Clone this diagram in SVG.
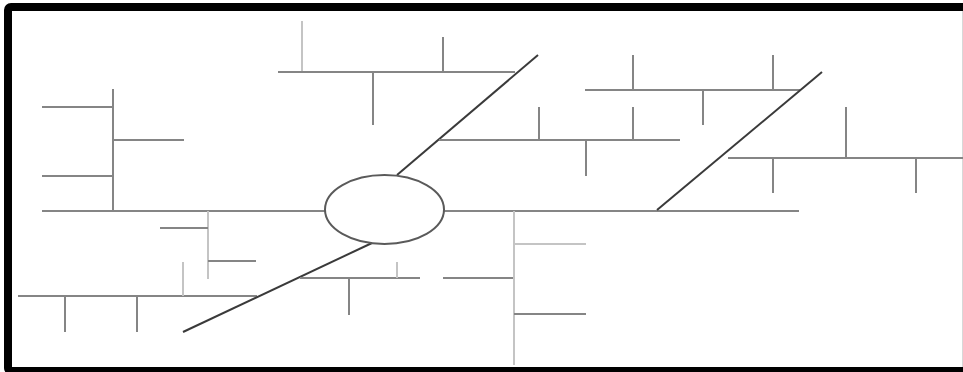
<svg xmlns="http://www.w3.org/2000/svg" width="963" height="372" viewBox="0 0 963 372">
<style>
.l{stroke:#858585;stroke-width:2;fill:none}
.lt{stroke:#c4c4c4;stroke-width:2;fill:none}
.d{stroke:#3a3a3a;stroke-width:2;fill:none}
</style>
<rect x="0" y="0" width="963" height="372" fill="#fff"/>
<rect x="8" y="7" width="960" height="364" rx="3" fill="none" stroke="#000" stroke-width="8"/>
<line x1="962.5" y1="11" x2="962.5" y2="367" stroke="#d8d8d8" stroke-width="1"/>
<g id="connectors">
<!-- main spine -->
<line class="l" x1="42" y1="211" x2="325" y2="211"/>
<line class="l" x1="444" y1="211" x2="799" y2="211"/>
<!-- upper-left comb -->
<line class="l" x1="113" y1="89" x2="113" y2="211"/>
<line class="l" x1="42" y1="107" x2="113" y2="107"/>
<line class="l" x1="113" y1="140" x2="184" y2="140"/>
<line class="l" x1="42" y1="176" x2="113" y2="176"/>
<!-- lower-left -->
<line class="lt" x1="208" y1="211" x2="208" y2="279"/>
<line class="l" x1="160" y1="228" x2="208" y2="228"/>
<line class="l" x1="208" y1="261" x2="256" y2="261"/>
<line class="l" x1="18" y1="296" x2="257" y2="296"/>
<line class="lt" x1="183" y1="262" x2="183" y2="296"/>
<line class="l" x1="65" y1="296" x2="65" y2="332"/>
<line class="l" x1="137" y1="296" x2="137" y2="332"/>
<line class="d" x1="183" y1="332" x2="372" y2="243"/>
<line class="l" x1="300" y1="278" x2="420" y2="278"/>
<line class="l" x1="349" y1="278" x2="349" y2="315"/>
<line class="lt" x1="397" y1="262" x2="397" y2="278"/>
<line class="l" x1="443" y1="278" x2="514" y2="278"/>
<!-- lower-right comb -->
<line class="lt" x1="514" y1="211" x2="514" y2="365"/>
<line class="lt" x1="514" y1="244" x2="586" y2="244"/>
<line class="l" x1="514" y1="314" x2="586" y2="314"/>
<!-- upper-middle -->
<line class="lt" x1="302" y1="21" x2="302" y2="72"/>
<line class="l" x1="278" y1="72" x2="515" y2="72"/>
<line class="l" x1="373" y1="72" x2="373" y2="125"/>
<line class="l" x1="443" y1="37" x2="443" y2="72"/>
<line class="d" x1="397" y1="175" x2="538" y2="55"/>
<line class="l" x1="439" y1="140" x2="680" y2="140"/>
<line class="l" x1="539" y1="107" x2="539" y2="140"/>
<line class="l" x1="633" y1="107" x2="633" y2="140"/>
<line class="l" x1="586" y1="140" x2="586" y2="176"/>
<!-- upper-right -->
<line class="l" x1="585" y1="90" x2="800" y2="90"/>
<line class="l" x1="633" y1="55" x2="633" y2="90"/>
<line class="l" x1="773" y1="55" x2="773" y2="90"/>
<line class="l" x1="703" y1="90" x2="703" y2="125"/>
<line class="d" x1="822" y1="72" x2="657" y2="210"/>
<line class="l" x1="728" y1="158" x2="963" y2="158"/>
<line class="l" x1="846" y1="107" x2="846" y2="158"/>
<line class="l" x1="773" y1="158" x2="773" y2="193"/>
<line class="l" x1="916" y1="158" x2="916" y2="193"/>
</g>
<g id="center">
<ellipse cx="384.5" cy="209.5" rx="59.5" ry="34.5" fill="#fff" stroke="#5a5a5a" stroke-width="2"/>
</g>
</svg>
